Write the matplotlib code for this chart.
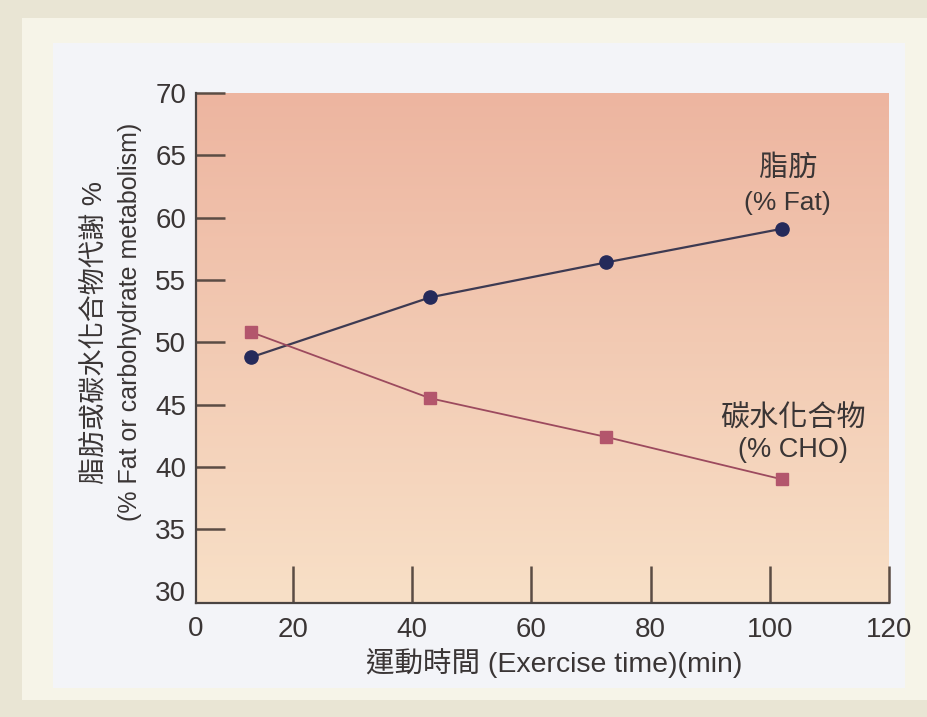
import numpy as np
import matplotlib
matplotlib.use("Agg")
import matplotlib.pyplot as plt
from matplotlib.patches import Rectangle

plt.rcParams['font.family'] = ['Liberation Sans', 'Noto Sans CJK TC', 'DejaVu Sans']

# 運動時間 (min) 與代謝比例 (%)
time_min = [13, 43, 72.5, 102]
fat_pct = [48.8, 53.6, 56.4, 59.1]
cho_pct = [50.8, 45.5, 42.4, 39.0]
x_ticks = [20, 40, 60, 80, 100, 120]
y_ticks = [30, 35, 40, 45, 50, 55, 60, 65, 70]

txt = '#3a3535'
tick_col = '#5b4c44'

fig = plt.figure(figsize=(9.28, 7.17), dpi=100)
fig.patch.set_facecolor('#e9e5d4')

# 紙張與圖框底色
fig.patches.append(Rectangle((22 / 928, 1 - 700 / 717), 906 / 928, 682 / 717,
                             transform=fig.transFigure, facecolor='#f6f4e8',
                             edgecolor='none', zorder=-2))
fig.patches.append(Rectangle((53 / 928, 1 - 688 / 717), 852 / 928, 645 / 717,
                             transform=fig.transFigure, facecolor='#f3f4f8',
                             edgecolor='none', zorder=-1))

ax = fig.add_axes([196 / 928, 1 - 603 / 717, 693 / 928, 510 / 717])
ax.set_zorder(2)
ax.set_xlim(3.7, 120)
ax.set_ylim(29.07, 70)

# 由上至下的漸層背景
grad = np.linspace(0, 1, 256).reshape(-1, 1)
top = np.array([237, 181, 160]) / 255
bot = np.array([248, 224, 199]) / 255
img = top + (bot - top) * grad[..., None]
ax.imshow(img, extent=[3.7, 120, 29.07, 70], aspect='auto', origin='upper', zorder=0)

ax.plot(time_min, fat_pct, color='#3d3a52', lw=1.6, marker='o', ms=9.5,
        mfc='#252a5a', mec='#252a5a', zorder=3)
ax.plot(time_min, cho_pct, color='#9c4a5e', lw=1.3, marker='s', ms=8.5,
        mfc='#b3566c', mec='#b3566c', zorder=3)

for s in ['top', 'right']:
    ax.spines[s].set_visible(False)
for s in ['left', 'bottom']:
    ax.spines[s].set_color('#4a4442')
    ax.spines[s].set_linewidth(1.6)

ax.set_xticks(x_ticks)
ax.set_yticks(y_ticks)
ax.tick_params(axis='y', direction='in', length=21, width=1.8, color=tick_col,
               labelsize=20, labelcolor=txt, pad=7)
ax.tick_params(axis='x', direction='in', length=27, width=1.8, color=tick_col,
               labelsize=20, labelcolor=txt, pad=10)
ax.yaxis.get_major_ticks()[0].tick1line.set_visible(False)
ax.text(0, -0.025, '0', transform=ax.transAxes, ha='center', va='top',
        fontsize=20, color=txt)

fig.text(554 / 928, 1 - 663 / 717, '運動時間 (Exercise time)(min)',
         ha='center', va='center', fontsize=20.5, color=txt)
fig.text(96 / 928, 1 - 332 / 717, '脂肪或碳水化合物代謝 %', rotation=90,
         ha='center', va='center', fontsize=19.5, color=txt)
fig.text(130 / 928, 1 - 322 / 717, '(% Fat or carbohydrate metabolism)', rotation=90,
         ha='center', va='center', fontsize=18, color=txt)

ax.text(103, 64.0, '脂肪', ha='center', va='center', fontsize=21, color=txt)
ax.text(103, 61.2, '(% Fat)', ha='center', va='center', fontsize=19, color=txt)
ax.text(103.9, 43.9, '碳水化合物', ha='center', va='center', fontsize=21, color=txt)
ax.text(103.9, 41.35, '(% CHO)', ha='center', va='center', fontsize=19.5, color=txt)

fig.savefig('out.png', dpi=100, facecolor=fig.get_facecolor())
